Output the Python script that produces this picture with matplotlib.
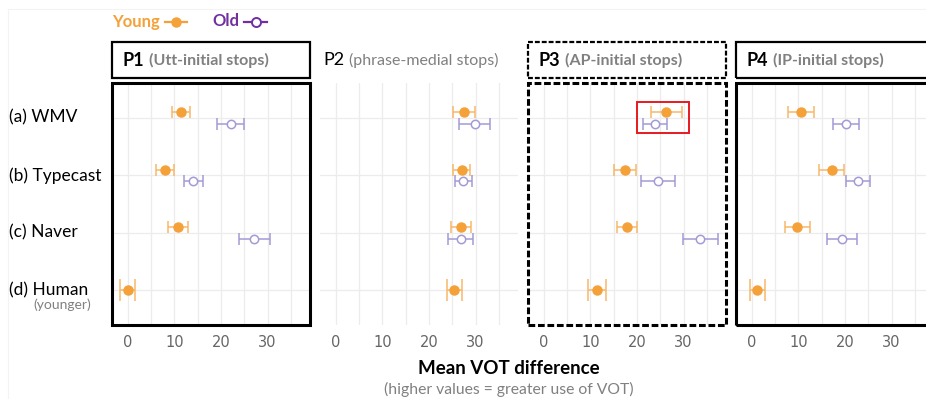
import matplotlib
matplotlib.use("Agg")
import matplotlib.pyplot as plt
from matplotlib.lines import Line2D
from matplotlib.patches import Rectangle

W, H, DPI = 926, 399, 100

# ---------------- data ----------------
rows = ["(a) WMV", "(b) Typecast", "(c) Naver", "(d) Human"]
row_note = "(younger)"
panel_ids = ["P1", "P2", "P3", "P4"]
panel_notes = ["(Utt-initial stops)", "(phrase-medial stops)",
               "(AP-initial stops)", "(IP-initial stops)"]
panel_bold = [True, False, True, True]
panel_border = ["solid", "none", "dashed", "solid"]
xticks = [0, 10, 20, 30]
xgrid = [0, 5, 10, 15, 20, 25, 30, 35]

# young: 4 rows (WMV, Typecast, Naver, Human); old: 3 rows (no Human)
p1_young = [11.4, 8.0, 10.7, 0.0]
p1_young_err = [2.0, 1.85, 2.15, 1.65]
p1_old = [22.1, 14.1, 27.2]
p1_old_err = [2.9, 1.95, 3.3]

p2_young = [27.5, 27.0, 26.9, 25.4]
p2_young_err = [2.35, 1.8, 2.1, 1.6]
p2_old = [29.8, 27.4, 26.8]
p2_old_err = [3.3, 1.9, 2.75]

p3_young = [26.3, 17.4, 17.8, 11.5]
p3_young_err = [3.3, 2.35, 2.15, 1.95]
p3_old = [23.8, 24.5, 33.6]
p3_old_err = [2.6, 3.6, 3.8]

p4_young = [10.6, 17.2, 9.8, 1.2]
p4_young_err = [2.8, 2.7, 2.65, 1.6]
p4_old = [20.2, 22.8, 19.4]
p4_old_err = [2.85, 2.55, 3.2]

young_all = [p1_young, p2_young, p3_young, p4_young]
young_err_all = [p1_young_err, p2_young_err, p3_young_err, p4_young_err]
old_all = [p1_old, p2_old, p3_old, p4_old]
old_err_all = [p1_old_err, p2_old_err, p3_old_err, p4_old_err]

highlight_panel = 2
highlight_x = (20.0, 31.1)

# ---------------- style ----------------
ORANGE = "#F4A13A"
ORANGE_BAR = "#F6B86A"
LAV = "#A39BD6"
PURPLE = "#7030A0"
GRAY = "#808080"
GRID = "#ECECEC"
FONT = ["Lato", "DejaVu Sans"]
NARROW = ["Liberation Sans Narrow", "DejaVu Sans"]
plt.rcParams["font.family"] = FONT

fig = plt.figure(figsize=(W / DPI, H / DPI), dpi=DPI)


def fx(px):
    return px / W


def fy(py):
    return 1 - py / H


# faint outer frame
fig.add_artist(Line2D([fx(8), fx(8)], [fy(9), 0], color="#F3F3F3", lw=0.8))
fig.add_artist(Line2D([fx(8), 1], [fy(9), fy(9)], color="#F3F3F3", lw=0.8))

panel_left0, panel_step, panel_w = 111.9, 208.0, 198.0
panel_top, panel_bot = 83.3, 324.8
head_top, head_bot = 42.0, 78.0
xlim = (-3.4, 39.1)
ylim = (-0.6, 3.6)
ypos = [3, 2, 1, 0]
dodge = 0.10

fig.canvas.draw()
renderer = fig.canvas.get_renderer()

for i in range(4):
    L = panel_left0 + panel_step * i
    ax = fig.add_axes([fx(L), fy(panel_bot), panel_w / W, (panel_bot - panel_top) / H])
    ax.set_xlim(*xlim)
    ax.set_ylim(*ylim)
    for s in ax.spines.values():
        s.set_visible(False)
    ax.set_yticks([])
    ax.set_xticks(xticks)
    ax.set_xticklabels([str(t) for t in xticks], family=NARROW, fontsize=10.5, color="#666666")
    ax.tick_params(axis="x", length=0, pad=7)
    for g in xgrid:
        ax.axvline(g, color=GRID, lw=0.9, zorder=0)
    for y in ypos:
        ax.axhline(y, color=GRID, lw=0.9, zorder=0)

    yv = young_all[i]
    ye = young_err_all[i]
    ov = old_all[i]
    oe = old_err_all[i]
    # young, dodged rows (a)-(c)
    yy = [ypos[k] + dodge for k in range(3)]
    ax.errorbar(yv[:3], yy, xerr=ye[:3], fmt="none", ecolor=ORANGE_BAR,
                elinewidth=1.1, capsize=4, capthick=1.1, zorder=3)
    ax.plot(yv[:3], yy, "o", color=ORANGE, ms=6.5, zorder=4)
    # young, human row (no dodge)
    ax.errorbar(yv[3:], [ypos[3]], xerr=ye[3:], fmt="none", ecolor=ORANGE_BAR,
                elinewidth=1.1, capsize=8, capthick=1.1, zorder=3)
    ax.plot(yv[3:], [ypos[3]], "o", color=ORANGE, ms=6.5, zorder=4)
    # old
    oy = [ypos[k] - dodge for k in range(3)]
    ax.errorbar(ov, oy, xerr=oe, fmt="none", ecolor=LAV,
                elinewidth=1.1, capsize=4, capthick=1.1, zorder=3)
    ax.plot(ov, oy, "o", mfc="white", mec=LAV, mew=1.1, ms=6, zorder=4)

    # panel borders
    if panel_border[i] != "none":
        ls = "-" if panel_border[i] == "solid" else (0, (2.2, 0.9))
        ax.add_patch(Rectangle((0, 0), 1, 1, transform=ax.transAxes, fill=False,
                               ec="black", lw=2.2, ls=ls, clip_on=False,
                               joinstyle="miter", zorder=6))
        fig.add_artist(Rectangle((fx(L), fy(head_bot)), panel_w / W,
                                 (head_bot - head_top) / H, fill=False,
                                 ec="black", lw=1.6, ls=ls, joinstyle="miter"))

    # header text
    wt = "bold" if panel_bold[i] else "normal"
    pad = 10.5 if panel_border[i] != "none" else 3
    t1 = fig.text(fx(L + pad), fy((head_top + head_bot) / 2), panel_ids[i],
                  fontsize=13, fontweight=wt, color="black", va="center", ha="left")
    bb = t1.get_window_extent(renderer=renderer)
    fig.text((bb.x1 + 5) / W, fy((head_top + head_bot) / 2 + 0.5), panel_notes[i],
             fontsize=11.5, fontweight=wt, color=GRAY, va="center", ha="left")

    if i == highlight_panel:
        ax.add_patch(Rectangle((highlight_x[0], ypos[0] - 0.265),
                               highlight_x[1] - highlight_x[0], 0.54,
                               fill=False, ec="#E8191E", lw=1.4, zorder=7))

# row labels
for k, r in enumerate(rows):
    pyy = panel_top + (ylim[1] - ypos[k]) / (ylim[1] - ylim[0]) * (panel_bot - panel_top)
    fig.text(fx(9), fy(pyy), r, fontsize=12.5, color="black", va="center", ha="left")
fig.text(fx(91), fy(305), row_note, fontsize=10, color=GRAY, va="center", ha="right")

# legend
ly = 21.5
fig.text(fx(112), fy(ly), "Young", fontsize=12, fontweight="bold", color=ORANGE,
         va="center", ha="left")
fig.add_artist(Line2D([fx(165), fx(187)], [fy(ly), fy(ly)], color=ORANGE, lw=1.6))
fig.add_artist(Line2D([fx(176)], [fy(ly)], marker="o", color=ORANGE, ms=6.5))
fig.text(fx(212), fy(ly), "Old", fontsize=12, fontweight="bold", color=PURPLE,
         va="center", ha="left")
fig.add_artist(Line2D([fx(244), fx(267)], [fy(ly), fy(ly)], color=PURPLE, lw=1.6))
fig.add_artist(Line2D([fx(255.5)], [fy(ly)], marker="o", mfc="white", mec=PURPLE,
                      mew=1.4, ms=6.5))

# axis title
fig.text(fx(509), fy(368), "Mean VOT difference", fontsize=13.5, fontweight="bold",
         color="black", va="center", ha="center")
fig.text(fx(509), fy(389), "(higher values = greater use of VOT)", fontsize=11.3,
         color=GRAY, va="center", ha="center")

fig.savefig("out.png", dpi=DPI)
